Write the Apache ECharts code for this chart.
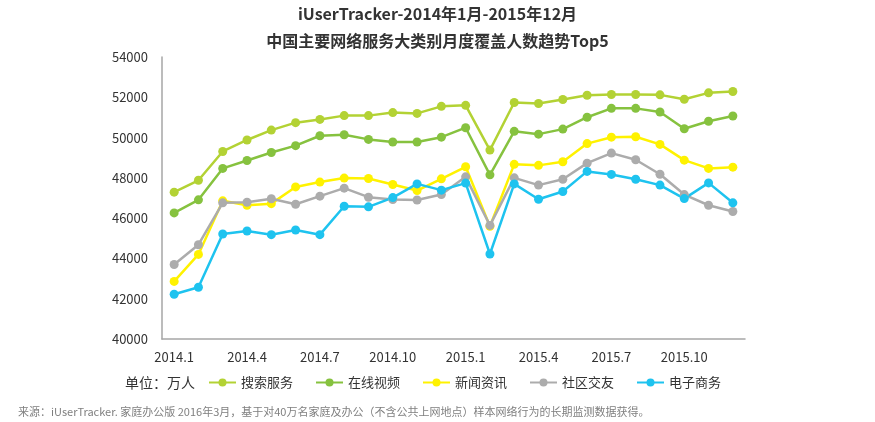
<!DOCTYPE html>
<html>
<head>
<meta charset="utf-8">
<script src="https://cdn.jsdelivr.net/npm/echarts@6/dist/echarts.min.js"></script>
<style>
  html, body { margin: 0; padding: 0; background: #fff; }
  #chart { width: 875px; height: 422px; }
</style>
</head>
<body>
<div id="chart"></div>
<script>
// 月份（2014.1 - 2015.12）
const months = [
  '2014.1', '2014.2', '2014.3', '2014.4', '2014.5', '2014.6',
  '2014.7', '2014.8', '2014.9', '2014.10', '2014.11', '2014.12',
  '2015.1', '2015.2', '2015.3', '2015.4', '2015.5', '2015.6',
  '2015.7', '2015.8', '2015.9', '2015.10', '2015.11', '2015.12'
]

// 各类别月度覆盖人数（万人）
const searchData = [47290, 47880, 49310, 49880, 50370, 50740, 50900, 51090, 51090, 51240, 51200, 51550,
  51600, 49380, 51740, 51690, 51890, 52100, 52140, 52140, 52120, 51900, 52220, 52290]
const videoData = [46260, 46910, 48470, 48860, 49260, 49600, 50090, 50140, 49910, 49780, 49780, 50020,
  50490, 48150, 50310, 50170, 50420, 51010, 51450, 51450, 51270, 50440, 50810, 51070]
const newsData = [42860, 44200, 46860, 46640, 46720, 47550, 47790, 47990, 47970, 47670, 47370, 47950,
  48550, 45600, 48670, 48620, 48800, 49700, 50020, 50040, 49660, 48880, 48470, 48530]
const socialData = [43700, 44680, 46760, 46790, 46960, 46690, 47090, 47490, 47040, 46920, 46900, 47170,
  48050, 45640, 48000, 47640, 47930, 48730, 49230, 48900, 48180, 47170, 46640, 46330]
const shopData = [42220, 42570, 45210, 45360, 45180, 45410, 45180, 46590, 46560, 47020, 47700, 47390,
  47740, 44220, 47700, 46940, 47320, 48320, 48170, 47930, 47640, 46970, 47750, 46760]

const seriesNames = ['搜索服务', '在线视频', '新闻资讯', '社区交友', '电子商务']
const seriesColors = ['#b3d234', '#86c23f', '#fff200', '#acacac', '#1ec3ef']
const seriesValues = [searchData, videoData, newsData, socialData, shopData]

const fontFamily = '"Noto Sans CJK SC", "Open Sans", sans-serif'

const myChart = echarts.init(document.getElementById('chart'))

const series = seriesNames.map((name, i) => {
  return {
    name: name,
    type: 'line',
    data: seriesValues[i],
    symbol: 'circle',
    symbolSize: 9,
    color: seriesColors[i],
    lineStyle: { width: 2.5 },
    animation: false
  }
})

const option = {
  backgroundColor: '#fff',
  textStyle: { fontFamily: fontFamily },
  title: [
    {
      text: 'iUserTracker-2014年1月-2015年12月\n中国主要网络服务大类别月度覆盖人数趋势Top5',
      left: 'center',
      top: -5,
      textStyle: {
        fontFamily: fontFamily,
        fontSize: 16,
        fontWeight: 'bold',
        color: '#333',
        lineHeight: 27
      }
    },
    {
      text: '单位：万人',
      left: 120,
      top: 371,
      textStyle: { fontFamily: fontFamily, fontSize: 14, fontWeight: 'normal', color: '#333' }
    },
    {
      text: '来源：iUserTracker. 家庭办公版 2016年3月，基于对40万名家庭及办公（不含公共上网地点）样本网络行为的长期监测数据获得。',
      left: 13,
      top: 401,
      textStyle: { fontFamily: fontFamily, fontSize: 11, fontWeight: 'normal', color: '#7f7f7f' }
    }
  ],
  legend: {
    data: seriesNames,
    left: 203,
    top: 371,
    itemWidth: 27,
    itemHeight: 10,
    itemGap: 22,
    textStyle: { fontFamily: fontFamily, fontSize: 13, color: '#333' }
  },
  grid: {
    left: 162,
    right: 130,
    top: 57,
    bottom: 83
  },
  xAxis: {
    type: 'category',
    data: months,
    boundaryGap: true,
    axisLine: { lineStyle: { color: '#a6a6a6', width: 1.5 } },
    axisTick: { show: false },
    axisLabel: {
      interval: 2,
      color: '#333',
      fontSize: 13,
      margin: 12,
      fontFamily: fontFamily
    }
  },
  yAxis: {
    type: 'value',
    min: 40000,
    max: 54000,
    interval: 2000,
    axisLine: { show: true, lineStyle: { color: '#a6a6a6', width: 1.5 } },
    axisTick: { show: false },
    splitLine: { show: false },
    axisLabel: {
      color: '#333',
      fontSize: 13,
      margin: 14,
      fontFamily: fontFamily,
      formatter: function (v) {
        return String(v)
      }
    }
  },
  series: series
}

myChart.setOption(option)
</script>
</body>
</html>
